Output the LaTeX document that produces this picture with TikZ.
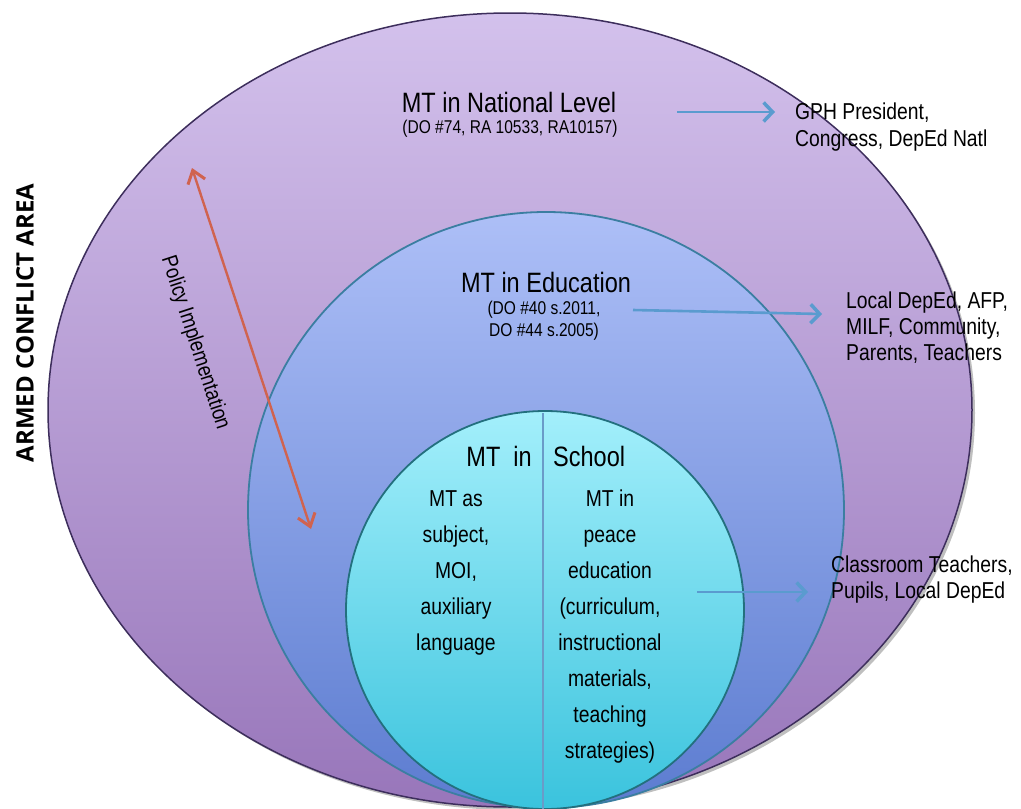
\documentclass[tikz,border=0pt]{standalone}
\usepackage{fontspec}
\setmainfont{Liberation Sans}
\newfontfamily\narrow{Liberation Sans}[FakeStretch=0.84]
\newfontfamily\osans{Open Sans}
\usetikzlibrary{arrows.meta,shapes.geometric}
\definecolor{outerTop}{HTML}{D3C1EC}
\definecolor{outerBot}{HTML}{9876BA}
\definecolor{outerLine}{HTML}{3D2E5C}
\definecolor{midTop}{HTML}{ADBFF7}
\definecolor{midBot}{HTML}{5C7CD0}
\definecolor{midLine}{HTML}{3B7EA1}
\definecolor{inTop}{HTML}{A3EFFB}
\definecolor{inBot}{HTML}{3AC3DD}
\definecolor{inLine}{HTML}{23707E}
\definecolor{arrBlue}{HTML}{5A9BCF}
\definecolor{arrRed}{HTML}{D0634F}
\definecolor{divider}{HTML}{6A9BC8}
\begin{document}
\begin{tikzpicture}[x=1pt,y=-1pt,
  title/.style={font=\narrow\fontsize{28}{30}\selectfont, inner sep=0pt},
  subtitle/.style={font=\narrow\fontsize{18.5}{22}\selectfont, inner sep=0pt, align=center},
  sidelabel/.style={font=\narrow\fontsize{23}{27}\selectfont, inner sep=0pt, align=left, anchor=north west},
  column/.style={font=\narrow\fontsize{23}{36}\selectfont, inner sep=0pt, align=center, anchor=north},
  bluearrow/.style={draw=arrBlue, line width=2.6pt, -{Straight Barb[length=9pt,width=19pt,line width=3.5pt]}},
  redarrow/.style={draw=arrRed, line width=2.4pt, {Straight Barb[length=12pt,width=18pt,line width=3pt]}-{Straight Barb[length=12pt,width=18pt,line width=3pt]}},
]
\useasboundingbox (0,0) rectangle (1021,809);
\clip (0,0) rectangle (1021,809);

% circles
\fill[black, opacity=0.25] (513,413) ellipse [x radius=462pt, y radius=397pt];
\node[ellipse, minimum width=924pt, minimum height=794pt, inner sep=0pt,
      top color=outerTop, bottom color=outerBot, draw=outerLine, line width=1.5pt] (outer) at (510,410) {};
\node[circle, minimum size=596pt, inner sep=0pt,
      top color=midTop, bottom color=midBot, draw=midLine, line width=1.8pt] (middle) at (546,510) {};
\node[circle, minimum size=398pt, inner sep=0pt,
      top color=inTop, bottom color=inBot, draw=inLine, line width=1.8pt] (inner) at (545,610) {};

% divider
\coordinate (divtop) at (543,413);
\coordinate (divbot) at (543,809);
\draw[divider, line width=1.8pt] (divtop) -- (divbot);

% side label
\node[font=\osans\bfseries\fontsize{24}{28}\selectfont, rotate=90, inner sep=0pt] (area) at (25,323) {ARMED CONFLICT AREA};

% national level
\node[title, anchor=base] (nat) at (509,112) {MT in National Level};
\node[subtitle, anchor=base] (natsub) at (510,133) {(DO \#74, RA 10533, RA10157)};
\node[sidelabel] (gph) at (795,103) {GPH President,\\Congress, DepEd Natl};

% education
\node[title, anchor=base] (edu) at (546,292) {MT in Education};
\node[subtitle, anchor=north] (edusub) at (544,301) {(DO \#40 s.2011,\\DO \#44 s.2005)};
\node[sidelabel, font=\narrow\fontsize{23}{26}\selectfont] (local) at (846,292) {Local DepEd, AFP,\\MILF, Community,\\Parents, Teachers};

% school
\node[title, anchor=base east] (mtin) at (532,466) {MT\ \ in};
\node[title, anchor=base west] (school) at (553,466) {School};
\node[column] (leftcol) at (456,490) {MT as\\subject,\\MOI,\\auxiliary\\language};
\node[column] (rightcol) at (610,490) {MT in\\peace\\education\\(curriculum,\\instructional\\materials,\\teaching\\strategies)};
\node[sidelabel, font=\narrow\fontsize{23}{26}\selectfont] (class) at (831,556) {Classroom Teachers,\\Pupils, Local DepEd};

% blue arrows
\coordinate (a1s) at (677,112);
\coordinate (a1e) at (775,112);
\draw[bluearrow] (a1s) -- (a1e);
\coordinate (a2s) at (633,310);
\coordinate (a2e) at (822,314);
\draw[bluearrow] (a2s) -- (a2e);
\coordinate (a3s) at (697,592);
\coordinate (a3e) at (808,592);
\draw[bluearrow] (a3s) -- (a3e);

% red double arrow
\coordinate (r1) at (192,168);
\coordinate (r2) at (311,529);
\draw[redarrow] (r1) -- (r2);
\node[font=\narrow\fontsize{22}{24}\selectfont, rotate=-71.9, inner sep=0pt] (policy) at (195,343) {Policy Implementation};
\end{tikzpicture}
\end{document}
